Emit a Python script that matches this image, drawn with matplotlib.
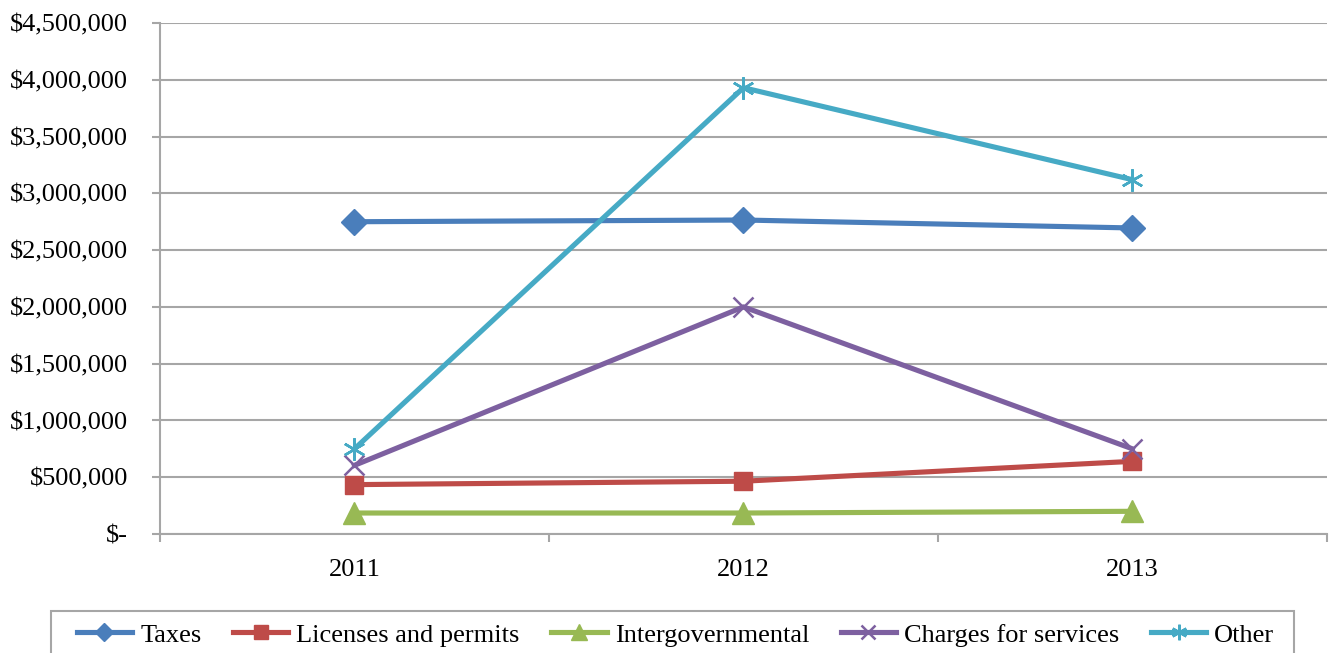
import matplotlib.pyplot as plt
from matplotlib.ticker import FuncFormatter, FixedLocator
from matplotlib.patches import Rectangle

# data
years = ['2011', '2012', '2013']
taxes = [2750000, 2765000, 2695000]
licenses = [435000, 465000, 640000]
intergov = [185000, 185000, 200000]
charges = [605000, 2000000, 750000]
other = [750000, 3930000, 3120000]

plt.rcParams['font.family'] = ['Liberation Serif', 'DejaVu Serif']

fig = plt.figure(figsize=(13.3, 6.53), dpi=100, facecolor='w')
ax = fig.add_axes([0.1203, 0.1822, 0.8774, 0.7826])

x = range(len(years))
lw = 3.7
ax.plot(x, taxes, color='#4A7EBB', lw=lw, marker='D', ms=13, label='Taxes')
ax.plot(x, licenses, color='#BE4B48', lw=lw, marker='s', ms=13.5, label='Licenses and permits')
ax.plot(x, intergov, color='#98B954', lw=lw, marker='^', ms=15.5, label='Intergovernmental')
ax.plot(x, charges, color='#7D60A0', lw=lw, marker='x', ms=14, mew=1.8, label='Charges for services')
ax.plot(x, other, color='#46AAC5', lw=lw, marker=(6, 2, 0), ms=16, mew=1.8, label='Other')

ax.set_xlim(-0.5, 2.5)
ax.set_ylim(0, 4500000)
ax.set_yticks(range(0, 4500001, 500000))

def money(v, pos):
    if v == 0:
        return '$-'
    return '${:,.0f}'.format(v)

ax.yaxis.set_major_formatter(FuncFormatter(money))
ax.set_xticks(list(x))
ax.set_xticklabels(years)
ax.xaxis.set_minor_locator(FixedLocator([-0.5, 0.5, 1.5, 2.5]))

ax.grid(axis='y', color='#A6A6A6', lw=1.5)
ax.set_axisbelow(True)
for s in ['top', 'right']:
    ax.spines[s].set_visible(False)
ax.spines['left'].set_color('#A6A6A6')
ax.spines['bottom'].set_color('#A6A6A6')
ax.spines['left'].set_linewidth(1.5)
ax.spines['bottom'].set_linewidth(1.5)

ax.tick_params(axis='y', length=6, width=1.5, color='#A6A6A6', pad=17, labelsize=19)
ax.tick_params(axis='x', which='major', length=0, pad=18, labelsize=19)
ax.tick_params(axis='x', which='minor', length=6, width=1.5, color='#A6A6A6')

# legend without its own frame; the box is drawn separately to match the wide padding
leg = fig.legend(loc='upper center', bbox_to_anchor=(0.508, 0.082), ncol=5,
                 fontsize=19, handlelength=2.1, handletextpad=0.3,
                 columnspacing=1.2, frameon=False, borderpad=0.4,
                 markerscale=0.7)
fig.patches.append(Rectangle((51 / 1330, -0.05), (1294 - 51) / 1330, 0.05 + (653 - 611) / 653,
                             transform=fig.transFigure, fill=False,
                             edgecolor='#A6A6A6', lw=1.5))

plt.savefig('out.png', dpi=100, facecolor='w')
